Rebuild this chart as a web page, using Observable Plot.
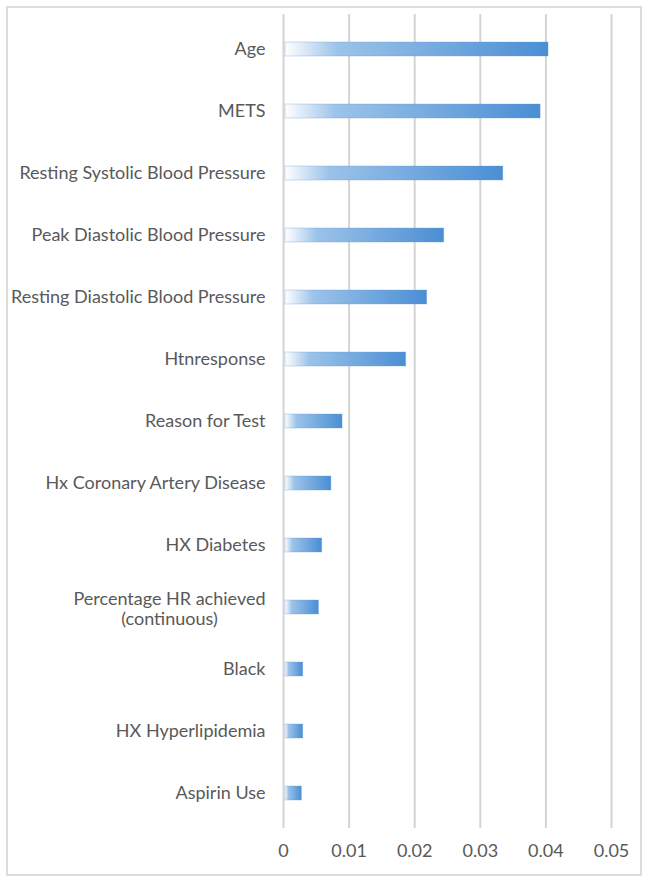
<!DOCTYPE html>
<html>
<head>
<meta charset="utf-8">
<script src="https://cdn.jsdelivr.net/npm/d3@7"></script>
<script src="https://cdn.jsdelivr.net/npm/@observablehq/plot@0.6"></script>
<style>
  html, body { margin: 0; padding: 0; background: #fff; }
  #wrap { position: relative; width: 650px; height: 885px; }
  #frame { position: absolute; left: 6px; top: 6px; width: 632px; height: 866px; border: 2px solid #dcdcdc; }
  #chart { position: absolute; left: 0; top: 0; }
</style>
</head>
<body>
<div id="wrap"><div id="frame"></div><div id="chart"></div></div>
<script>
const features = [
  "Age",
  "METS",
  "Resting Systolic Blood Pressure",
  "Peak Diastolic Blood Pressure",
  "Resting Diastolic Blood Pressure",
  "Htnresponse",
  "Reason for Test",
  "Hx Coronary Artery Disease",
  "HX Diabetes",
  "Percentage HR achieved\n(continuous)",
  "Black",
  "HX Hyperlipidemia",
  "Aspirin Use"
];
const importance = [0.0404, 0.0392, 0.0335, 0.0245, 0.0219, 0.0187, 0.0090, 0.0073, 0.0059, 0.0054, 0.0030, 0.0030, 0.0028];
const xTicks = [0, 0.01, 0.02, 0.03, 0.04, 0.05];
const xTickLabels = ["0", "0.01", "0.02", "0.03", "0.04", "0.05"];

const data = features.map((f, i) => ({feature: f, value: importance[i]}));

const defs = () => {
  const ns = "http://www.w3.org/2000/svg";
  const d = document.createElementNS(ns, "defs");
  d.innerHTML = `<linearGradient id="barGrad" x1="0" y1="0" x2="1" y2="0">
      <stop offset="0" stop-color="#ffffff"/>
      <stop offset="0.2" stop-color="#9cc3e9"/>
      <stop offset="1" stop-color="#4a8ed4"/>
    </linearGradient>`;
  return d;
};

const chart = Plot.plot({
  width: 650,
  height: 885,
  marginLeft: 283,
  marginRight: 39,
  marginTop: 14,
  marginBottom: 57,
  style: {fontFamily: "Lato, sans-serif", fontSize: "18px", color: "#595959", background: "transparent"},
  x: {domain: [0, 0.05], ticks: xTicks, tickFormat: (d) => xTickLabels[xTicks.indexOf(d)], tickSize: 0, tickPadding: 16, label: null},
  y: {domain: features, paddingInner: 0.775, paddingOuter: 0.3875, tickSize: 0, tickPadding: 18, label: null},
  marks: [
    defs,
    Plot.ruleX(xTicks, {stroke: "#d4d4d4", strokeWidth: 2}),
    Plot.barX(data, {x: "value", y: "feature", fill: "url(#barGrad)", stroke: "#6a9fd8", strokeOpacity: 0.35, strokeWidth: 1, insetLeft: 2})
  ]
});
document.getElementById("chart").appendChild(chart);

// center the two-line label and give it more line spacing
chart.querySelectorAll("text").forEach(t => {
  const spans = t.querySelectorAll("tspan");
  if (spans.length === 2) {
    spans[0].setAttribute("y", "-0.12em");
    spans[1].setAttribute("dy", "1.1em");
    spans[0].removeAttribute("dy");
    const bb = t.getBBox();
    const cx = bb.x + bb.width / 2;
    t.setAttribute("text-anchor", "middle");
    spans.forEach(s => s.setAttribute("x", cx));
  }
});
</script>
</body>
</html>
